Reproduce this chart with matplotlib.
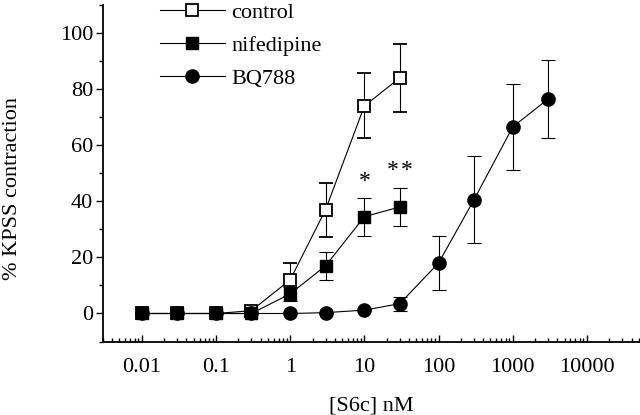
import matplotlib
matplotlib.use("Agg")
import matplotlib.pyplot as plt
from matplotlib.ticker import LogLocator, FixedLocator, NullFormatter, FixedFormatter

plt.rcParams["font.family"] = "Liberation Serif"

# concentrations (nM)
conc = [0.01, 0.03, 0.1, 0.3, 1, 3, 10, 30, 100, 300, 1000, 3000]

control = [0, 0, 0, 1, 12, 37, 74, 84]
control_err = [0, 0, 0, 1.5, 6, 9.7, 11.6, 12]

nifedipine = [0, 0, 0, 0, 7, 17, 34.5, 38]
nifedipine_err = [0, 0, 0, 0, 2.5, 5, 6.7, 6.7]

bq788 = [0, 0, 0, 0, 0, 0.3, 1.2, 3.5, 18, 40.5, 66.5, 76.5]
bq788_err = [0, 0, 0, 0, 0, 0, 0, 2.5, 9.5, 15.5, 15.3, 14]

# significance marks above nifedipine points
star_x = [10, 30]
star_y = [47, 51]
star_n = [1, 2]

xtick_vals = [0.01, 0.1, 1, 10, 100, 1000, 10000]
xtick_labels = ["0.01", "0.1", "1", "10", "100", "1000", "10000"]

fig = plt.figure(figsize=(6.4, 4.15), dpi=100)
ax = fig.add_axes([0.161, 0.177, 0.839, 0.811])

kw = dict(color="black", lw=0.8, elinewidth=0.8, capsize=4.8, capthick=0.8)
c1 = ax.errorbar(conc[:8], control, yerr=control_err, fmt="-s", ms=8,
                 mfc="white", mec="black", mew=1.3, label="control", **kw)
c2 = ax.errorbar(conc[:8], nifedipine, yerr=nifedipine_err, fmt="-s", ms=8.3,
                 mfc="black", mec="black", label="nifedipine", **kw)
c3 = ax.errorbar(conc, bq788, yerr=bq788_err, fmt="-o", ms=9.5,
                 mfc="black", mec="black", label="BQ788", **kw)

for x, y, n in zip(star_x, star_y, star_n):
    offs = [0] if n == 1 else [-5, 5]
    for o in offs:
        ax.annotate("*", (x, y), xytext=(o, 0), textcoords="offset points",
                    ha="center", va="center", fontsize=17)

ax.set_xscale("log")
ax.set_xlim(0.003, 5.2e4)
ax.set_ylim(-10, 110)

ax.spines["top"].set_visible(False)
ax.spines["right"].set_visible(False)
ax.spines["left"].set_linewidth(1.3)
ax.spines["bottom"].set_linewidth(1.3)

ax.xaxis.set_major_locator(FixedLocator(xtick_vals))
ax.xaxis.set_major_formatter(FixedFormatter(xtick_labels))
ax.xaxis.set_minor_locator(LogLocator(base=10, subs=range(2, 10), numticks=20))
ax.xaxis.set_minor_formatter(NullFormatter())
ax.tick_params(axis="x", which="major", direction="in", length=5, width=1, pad=12, labelsize=16)
ax.tick_params(axis="x", which="minor", direction="in", length=3, width=1)

ax.set_yticks([0, 20, 40, 60, 80, 100])
ax.set_yticks([-10, 10, 30, 50, 70, 90, 110], minor=True)
ax.tick_params(axis="y", which="major", direction="out", length=5, width=1, pad=2, labelsize=16)
ax.tick_params(axis="y", which="minor", direction="out", length=3, width=1)

ax.set_xlabel("[S6c] nM", fontsize=16, labelpad=14)
ax.set_ylabel("% KPSS contraction", fontsize=16)
ax.yaxis.set_label_coords(-0.15, 0.455)

# legend shows only line + marker, no error bars
handles = [c1[0], c2[0], c3[0]]
labels = ["control", "nifedipine", "BQ788"]
ax.legend(handles, labels, loc="upper left", bbox_to_anchor=(0.09, 1.034),
          frameon=False, fontsize=16, handlelength=2.9, handletextpad=0.3,
          labelspacing=0.56, borderaxespad=0)

fig.savefig("out.png", dpi=100)
